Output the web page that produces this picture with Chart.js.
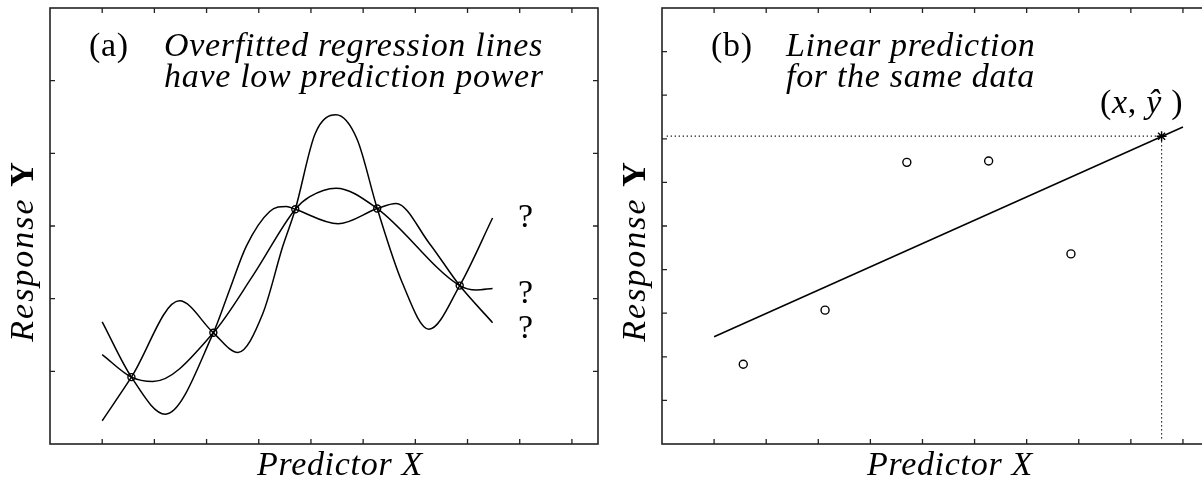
<!DOCTYPE html>
<html>
<head>
<meta charset="utf-8">
<script src="https://cdn.jsdelivr.net/npm/chart.js@4.4.1/dist/chart.umd.min.js"></script>
<style>
  body { margin: 0; width: 1202px; height: 479px; overflow: hidden; background: #fff; position: relative; }
  canvas { position: absolute; top: 0; }
  #left { left: 0; }
  #right { left: 600px; }
</style>
</head>
<body>
<canvas id="left" width="620" height="479"></canvas>
<canvas id="right" width="640" height="479"></canvas>
<script>
// observed data points (same x in both panels)
const pointX = [0.56, 2.13, 3.70, 5.27, 6.85];
const pointYLeft = [0.92, 1.53, 3.23, 3.24, 2.18];
const pointYRight = [1.83, 3.07, 6.46, 6.49, 4.36];

// overfitted curves
const curveAX = [0, 0.56, 1.21, 2.13, 2.44, 2.76, 3.21, 3.53, 3.70, 4.52, 5.27, 5.63, 6.27, 6.85, 7.48];
const curveAY = [1.68, 0.92, 0.41, 1.53, 2.12, 2.72, 3.20, 3.27, 3.23, 3.03, 3.24, 3.31, 2.76, 2.18, 1.67];
const curveBX = [0, 0.56, 0.97, 2.13, 2.90, 3.70, 3.97, 4.48, 5.27, 6.85, 7.17, 7.48];
const curveBY = [1.23, 0.92, 0.86, 1.53, 2.33, 3.23, 3.40, 3.52, 3.24, 2.18, 2.12, 2.14];
const curveCX = [0, 0.56, 1.48, 2.13, 2.60, 3.08, 3.46, 3.70, 4.08, 4.48, 4.88, 5.27, 5.75, 6.26, 6.85, 7.48];
const curveCY = [0.32, 0.92, 1.97, 1.53, 1.26, 1.80, 2.72, 3.23, 4.27, 4.53, 4.20, 3.24, 2.22, 1.58, 2.18, 3.11];

// linear fit and the predicted point (right panel)
const fitX = [0, 9];
const fitY = [2.46, 7.27];
const predX = 8.59;
const predY = 7.06;
const guideX = [-0.91, predX, predX];
const guideY = [predY, predY, 0.11];

// tick positions
const xTicks = [0, 1, 2, 3, 4, 5, 6, 7, 8, 9];
const yTicksLeft = [1, 2, 3, 4, 5];
const yTicksRight = [1, 2, 3, 4, 5, 6, 7, 8, 9];

const serif = '"Liberation Serif", "DejaVu Serif", serif';
const FS = 34;
const ital = 'italic ' + FS + 'px ' + serif;
const roman = FS + 'px ' + serif;
const bold = 'bold ' + FS + 'px ' + serif;
const SPACING = '0.7px';

function xy(xs, ys) {
    return xs.map((x, i) => ({ x: x, y: ys[i] }));
}

function drawRuns(ctx, runs, x, y) {
    runs.forEach(r => {
        ctx.font = r.font;
        ctx.fillText(r.text, x, y);
        x += ctx.measureText(r.text).width;
    });
}

function runsWidth(ctx, runs) {
    let w = 0;
    runs.forEach(r => {
        ctx.font = r.font;
        w += ctx.measureText(r.text).width;
    });
    return w;
}

const framePlugin = {
    id: 'frame',
    afterDatasetsDraw(chart, args, opts) {
        const ctx = chart.ctx;
        const a = chart.chartArea;
        const sx = chart.scales.x, sy = chart.scales.y;
        ctx.save();
        ctx.strokeStyle = '#222';
        ctx.lineWidth = 1.6;
        ctx.strokeRect(a.left, a.top, a.right - a.left, a.bottom - a.top);
        ctx.lineWidth = 1.3;
        ctx.beginPath();
        xTicks.forEach(t => {
            const px = sx.getPixelForValue(t);
            ctx.moveTo(px, a.bottom); ctx.lineTo(px, a.bottom - 5);
            ctx.moveTo(px, a.top); ctx.lineTo(px, a.top + 5);
        });
        opts.yTicks.forEach(t => {
            const py = sy.getPixelForValue(t);
            ctx.moveTo(a.left, py); ctx.lineTo(a.left + 5, py);
            ctx.moveTo(a.right, py); ctx.lineTo(a.right - 5, py);
        });
        ctx.stroke();

        ctx.fillStyle = '#000';
        ctx.textBaseline = 'alphabetic';
        ctx.textAlign = 'left';
        ctx.letterSpacing = SPACING;
        opts.texts.forEach(t => drawRuns(ctx, t.runs, t.x, t.y));

        // x axis label
        const xl = [{ text: 'Predictor X', font: ital }];
        drawRuns(ctx, xl, opts.xLabelCenter - runsWidth(ctx, xl) / 2, 475);

        // y axis label, rotated
        ctx.letterSpacing = '2px';
        const yl = [{ text: 'Response ', font: ital }, { text: 'Y', font: bold }];
        ctx.save();
        ctx.translate(a.left - 17, 251);
        ctx.rotate(-Math.PI / 2);
        drawRuns(ctx, yl, -runsWidth(ctx, yl) / 2, 0);
        ctx.restore();

        ctx.letterSpacing = '0px';
        (opts.marks || []).forEach(m => {
            ctx.font = roman;
            ctx.textAlign = 'center';
            ctx.textBaseline = 'middle';
            ctx.fillText(m.text, sx.getPixelForValue(m.x), sy.getPixelForValue(m.y));
        });
        ctx.restore();
    }
};

function baseOptions(yMax, padding, frame) {
    return {
        responsive: false,
        animation: false,
        events: [],
        layout: { padding: padding },
        scales: {
            x: { type: 'linear', min: -1, max: 9.5, display: false },
            y: { type: 'linear', min: 0, max: yMax, display: false }
        },
        plugins: {
            legend: { display: false },
            tooltip: { enabled: false },
            frame: frame
        }
    };
}

function curve(xs, ys) {
    return {
        type: 'line',
        data: xy(xs, ys),
        borderColor: '#000',
        borderWidth: 1.5,
        pointRadius: 0,
        cubicInterpolationMode: 'monotone',
        order: 2
    };
}

function circles(ys, r) {
    return {
        type: 'scatter',
        data: xy(pointX, ys),
        pointStyle: 'circle',
        pointRadius: r,
        borderColor: '#000',
        backgroundColor: 'rgba(0,0,0,0)',
        pointBorderWidth: 1.4,
        showLine: false,
        order: 0
    };
}

function initLeft() {
    new Chart(document.getElementById('left'), {
        type: 'line',
        data: {
            datasets: [
                circles(pointYLeft, 3.5),
                curve(curveAX, curveAY),
                curve(curveBX, curveBY),
                curve(curveCX, curveCY)
            ]
        },
        options: baseOptions(6, { left: 50, right: 22, top: 8, bottom: 35 }, {
            yTicks: yTicksLeft,
            xLabelCenter: 340,
            texts: [
                { x: 89, y: 56, runs: [{ text: '(a)', font: roman }] },
                { x: 164, y: 56, runs: [{ text: 'Overfitted regression lines', font: ital }] },
                { x: 164, y: 87, runs: [{ text: 'have low prediction power', font: ital }] }
            ],
            marks: [
                { text: '?', x: 8.11, y: 3.11 },
                { text: '?', x: 8.11, y: 2.06 },
                { text: '?', x: 8.11, y: 1.58 }
            ]
        }),
        plugins: [framePlugin]
    });
}

function initRight() {
    new Chart(document.getElementById('right'), {
        type: 'line',
        data: {
            datasets: [
                circles(pointYRight, 4),
                {
                    type: 'scatter',
                    data: [{ x: predX, y: predY }],
                    pointStyle: 'star',
                    pointRadius: 5,
                    borderColor: '#000',
                    pointBorderWidth: 1.4,
                    order: 0
                },
                {
                    type: 'line',
                    data: xy(fitX, fitY),
                    borderColor: '#000',
                    borderWidth: 1.5,
                    pointRadius: 0,
                    tension: 0,
                    order: 1
                },
                {
                    type: 'line',
                    data: xy(guideX, guideY),
                    borderColor: '#000',
                    borderWidth: 1.2,
                    borderDash: [1.2, 2.8],
                    pointRadius: 0,
                    tension: 0,
                    order: 2
                }
            ]
        },
        options: baseOptions(10, { left: 62, right: 31, top: 8, bottom: 35 }, {
            yTicks: yTicksRight,
            xLabelCenter: 350,
            texts: [
                { x: 111, y: 56, runs: [{ text: '(b)', font: roman }] },
                { x: 186, y: 56, runs: [{ text: 'Linear prediction', font: ital }] },
                { x: 186, y: 87, runs: [{ text: 'for the same data', font: ital }] },
                { x: 500, y: 113, runs: [
                    { text: '(', font: roman },
                    { text: 'x', font: ital },
                    { text: ', ', font: roman },
                    { text: '\u0177', font: ital },
                    { text: ' )', font: roman }
                ] }
            ]
        }),
        plugins: [framePlugin]
    });
}

document.addEventListener('DOMContentLoaded', () => {
    initLeft();
    initRight();
});
</script>
</body>
</html>
